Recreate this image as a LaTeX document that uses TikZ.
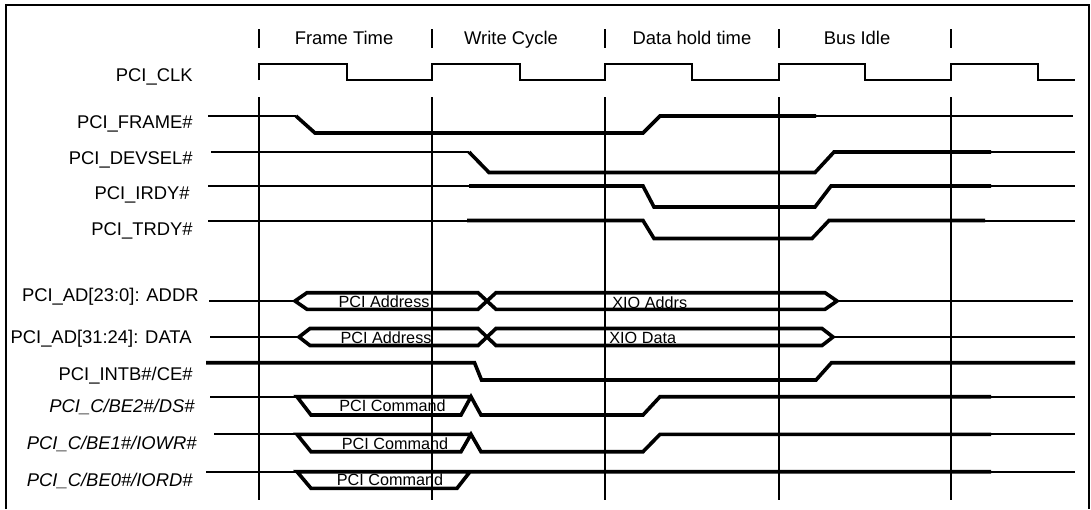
\documentclass[tikz,border=0pt]{standalone}
\usepackage{fontspec}
\setmainfont{Liberation Sans}
\begin{document}
\begin{tikzpicture}[
    x=0.5pt,y=-0.5pt,
    font=\fontsize{9.2}{11}\selectfont,
    line join=miter,
    sig/.style={draw=black, line width=1pt},
    sigbold/.style={draw=black, line width=1.8pt},
    cyclegrid/.style={draw=black, line width=1pt},
    signame/.style={anchor=base east, inner sep=0pt},
    signamei/.style={signame, font=\fontsize{9.2}{11}\selectfont\itshape},
    phase/.style={anchor=base, inner sep=0pt},
    bustxt/.style={anchor=base, inner sep=0pt, font=\fontsize{8.1}{10}\selectfont}
]

\useasboundingbox (0,0) rectangle (1091,509);

% frame, open at the bottom
\draw[line width=1pt] (6,509) -- (6,5) -- (1089,5) -- (1089,509);

% cycle boundaries
\foreach \x in {259,432,605,779,951} {
    \draw[cyclegrid] (\x,29) -- (\x,48);
    \draw[cyclegrid] (\x,97) -- (\x,500);
}

\node[phase] (tframe) at (344,44.6) {Frame Time};
\node[phase] (twrite) at (511,44.6) {Write Cycle};
\node[phase] (thold)  at (692,44.6) {Data hold time};
\node[phase] (tidle)  at (857,44.6) {Bus Idle};

% signal names
\node[signame] (nclk)   at (193,81)    {PCI\_CLK};
\node[signame] (nframe) at (193,128)   {PCI\_FRAME\#};
\node[signame] (ndev)   at (193,164.6) {PCI\_DEVSEL\#};
\node[signame] (nirdy)  at (190,199)   {PCI\_IRDY\#};
\node[signame] (ntrdy)  at (193,235)   {PCI\_TRDY\#};
\node[signame] (naddr)  at (199,301.5) {PCI\_AD[23:0]: ADDR};
\node[signame] (ndata)  at (192,343)   {PCI\_AD[31:24]: DATA};
\node[signame] (nintb)  at (193,380)   {PCI\_INTB\#/CE\#};
\node[signamei] (nbe2)  at (195,412.5) {PCI\_C/BE2\#/DS\#};
\node[signamei] (nbe1)  at (197,449.5) {PCI\_C/BE1\#/IOWR\#};
\node[signamei] (nbe0)  at (193,486.5) {PCI\_C/BE0\#/IORD\#};

% clock
\draw[sig] (259,80) -- (259,64) -- (347,64) -- (347,80) -- (432,80) -- (432,64)
    -- (519.5,64) -- (519.5,80) -- (605,80) -- (605,64) -- (692,64) -- (692,80)
    -- (779,80) -- (779,64) -- (865,64) -- (865,80) -- (951,80) -- (951,64)
    -- (1038,64) -- (1038,80) -- (1075,80);

% FRAME#
\draw[sig] (208,116) -- (296,116);
\draw[sigbold] (296,116) -- (315,133) -- (643,133) -- (660,116) -- (816,116);
\draw[sig] (816,116) -- (1073,116);

% DEVSEL#
\draw[sig] (211,152) -- (469,152);
\draw[sigbold] (469,152) -- (489,172.5) -- (815,172.5) -- (834,152) -- (991,152);
\draw[sig] (991,152) -- (1075,152);

% IRDY#
\draw[sig] (208,186) -- (469,186);
\draw[sigbold] (469,186) -- (643,186) -- (654,207) -- (815,207) -- (831,186) -- (991,186);
\draw[sig] (991,186) -- (1075,186);

% TRDY#
\draw[sig] (208,220.5) -- (467,220.5);
\draw[sigbold] (467,220.5) -- (643,220.5) -- (654,238.5) -- (812,238.5) -- (829,220.5) -- (985,220.5);
\draw[sig] (985,220.5) -- (1075,220.5);

% address bus
\draw[sig] (209,301) -- (295,301);
\draw[sigbold] (295,301) -- (307,292.7) -- (478,292.7) -- (496,309.3) -- (825,309.3)
    -- (837,301) -- (825,292.7) -- (496,292.7) -- (478,309.3) -- (307,309.3) -- cycle;
\draw[sig] (837,301) -- (1073,301);
\node[bustxt] (baddr) at (384,307.8) {PCI Address};
\node[bustxt, anchor=base west] (bxaddr) at (612,308) {XIO Addrs};

% data bus
\draw[sig] (210,337) -- (299,337);
\draw[sigbold] (299,337) -- (310,328.5) -- (478,328.5) -- (496,345.5) -- (822,345.5)
    -- (833,337) -- (822,328.5) -- (496,328.5) -- (478,345.5) -- (310,345.5) -- cycle;
\draw[sig] (833,337) -- (1075,337);
\node[bustxt] (bdata) at (386,343.3) {PCI Address};
\node[bustxt, anchor=base west] (bxdata) at (609,343.3) {XIO Data};

% INTB#/CE#
\draw[sigbold] (206,362.7) -- (474.5,362.7) -- (481.5,380) -- (816,380) -- (831.5,362.7) -- (1075,362.7);

% C/BE2#
\draw[sig] (210,396.7) -- (297,396.7);
\draw[sigbold] (471,396.7) -- (297,396.7) -- (311,415) -- (461,415) -- (471,396.7)
    -- (481,415) -- (643,415) -- (660,396.7) -- (991,396.7);
\draw[sig] (991,396.7) -- (1075,396.7);
\node[bustxt] (cbe2) at (392.5,411.8) {PCI Command};

% C/BE1#
\draw[sig] (214,434.3) -- (297,434.3);
\draw[sigbold] (471,434.3) -- (297,434.3) -- (311,451.7) -- (461,451.7) -- (471,434.3)
    -- (481,451.7) -- (643,451.7) -- (660,434.3) -- (991,434.3);
\draw[sig] (991,434.3) -- (1075,434.3);
\node[bustxt] (cbe1) at (395,449) {PCI Command};

% C/BE0#
\draw[sig] (206,471.7) -- (297,471.7);
\draw[sigbold] (991,471.7) -- (297,471.7) -- (311,488.3) -- (457,488.3) -- (470,471.7);
\draw[sig] (991,471.7) -- (1075,471.7);
\node[bustxt] (cbe0) at (390,485.8) {PCI Command};

\end{tikzpicture}
\end{document}
